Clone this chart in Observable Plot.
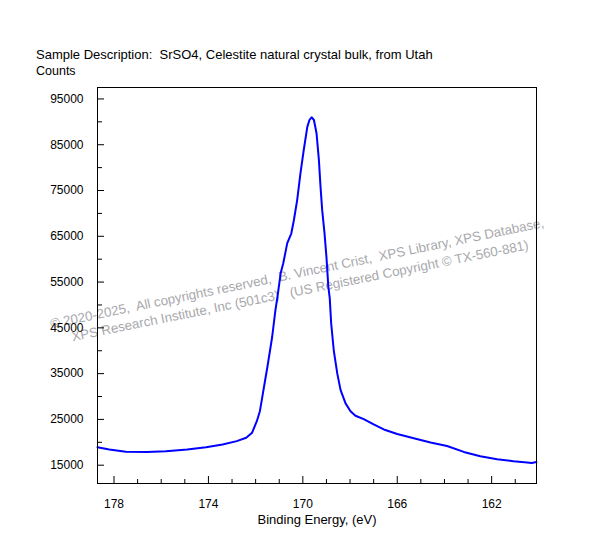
<!DOCTYPE html>
<html>
<head>
<meta charset="utf-8">
<script src="https://cdn.jsdelivr.net/npm/d3@7"></script>
<script src="https://cdn.jsdelivr.net/npm/@observablehq/plot@0.6"></script>
<style>
  body { margin: 0; background: white; width: 593px; height: 557px; overflow: hidden; }
  #title { font-family: "Liberation Sans", Arial, sans-serif; line-height: 16px;
           padding: 47px 0 0 36px; height: 32px; white-space: pre; color: black; }
  #title div { height: 16px; }
</style>
</head>
<body>
<div id="title"><div style="font-size:13px">Sample Description:  SrSO4, Celestite natural crystal bulk, from Utah</div><div style="font-size:12.5px">Counts</div></div>
<div id="chart"></div>
<script>
const energy = [178.7, 178.2, 177.5, 176.6, 175.8, 174.9, 174.1, 173.4, 172.8, 172.4,
  172.15, 171.95, 171.82, 171.72, 171.6, 171.5, 171.3, 171.16, 171.06, 170.94,
  170.83, 170.66, 170.49, 170.38, 170.24, 170.10, 169.96, 169.81, 169.72, 169.63,
  169.53, 169.42, 169.32, 169.25, 169.18, 169.08, 169.00, 168.92, 168.86, 168.80,
  168.69, 168.54, 168.40, 168.19, 167.98, 167.77, 167.42, 167.0, 166.57, 166.0,
  165.3, 164.59, 163.89, 163.18, 162.48, 161.77, 161.07, 160.5, 160.3, 160.1];
const counts = [18930, 18430, 17950, 17900, 18050, 18430, 18930, 19500, 20250, 21000,
  22100, 24600, 26800, 29800, 33500, 36500, 43000, 48900, 52300, 56900,
  59100, 63500, 65600, 68500, 72900, 78800, 83900, 88900, 90400, 91000,
  90400, 87500, 81700, 75800, 70700, 65600, 60500, 54000, 51500, 46000,
  40100, 35000, 31400, 28500, 26800, 25800, 25050, 23900, 22800, 21800,
  20900, 19950, 19200, 17900, 16950, 16300, 15850, 15600, 15500, 15700];

const xTickLabels = [178, 174, 170, 166, 162];
const xMinorTicks = [177, 176, 175, 173, 172, 171, 169, 168, 167, 165, 164, 163, 161];
const yTickLabels = [15000, 25000, 35000, 45000, 55000, 65000, 75000, 85000, 95000];
const yMinorTicks = [20000, 30000, 40000, 50000, 60000, 70000, 80000, 90000];

const xLabel = "Binding Energy, (eV)";
const watermark1 = "© 2020-2025,  All copyrights reserved,  B. Vincent Crist,  XPS Library, XPS Database,";
const watermark2 = "XPS Research Institute, Inc (501c3)   (US Registered Copyright © TX-560-881)";

const W = 593, H = 478, mL = 97, mR = 57, mT = 8, mB = 74;
const plotW = W - mL - mR, plotH = H - mT - mB;

const data = energy.map((e, i) => ({e, c: counts[i]}));

const chart = Plot.plot({
  width: W, height: H,
  marginLeft: mL, marginRight: mR, marginTop: mT, marginBottom: mB,
  style: {fontFamily: "Liberation Sans, Arial, sans-serif", fontSize: "12px", background: "white", overflow: "visible", color: "black"},
  x: {domain: [178.7, 160.1]},
  y: {domain: [11000, 97500]},
  marks: [
    Plot.text([watermark1], {frameAnchor: "middle", rotate: -11.6, dx: -20, dy: -12, fill: "#a8a8ac", fontSize: 13.3}),
    Plot.text([watermark2], {frameAnchor: "middle", rotate: -11.4, dx: -17, dy: 5.5, fill: "#a8a8ac", fontSize: 13.3}),
    Plot.line(data, {x: "e", y: "c", stroke: "#0000ff", strokeWidth: 2}),
    Plot.tickX(xTickLabels, {x: d => d, insetTop: plotH - 7, stroke: "black"}),
    Plot.tickX(xMinorTicks, {x: d => d, insetTop: plotH - 4, stroke: "black"}),
    Plot.tickY(yTickLabels, {y: d => d, insetRight: plotW - 7, stroke: "black"}),
    Plot.tickY(yMinorTicks, {y: d => d, insetRight: plotW - 5, stroke: "black"}),
    Plot.axisX({ticks: xTickLabels, tickSize: 0, tickPadding: 16, label: null, tickFormat: d => String(d)}),
    Plot.axisY({ticks: yTickLabels, tickSize: 0, tickPadding: 14, label: null, tickFormat: d => String(d)}),
    Plot.text([xLabel], {frameAnchor: "bottom", dy: 40, lineAnchor: "bottom", fill: "black", fontSize: 13}),
    Plot.frame({stroke: "black", strokeWidth: 1})
  ]
});
document.getElementById("chart").appendChild(chart);
</script>
</body>
</html>
